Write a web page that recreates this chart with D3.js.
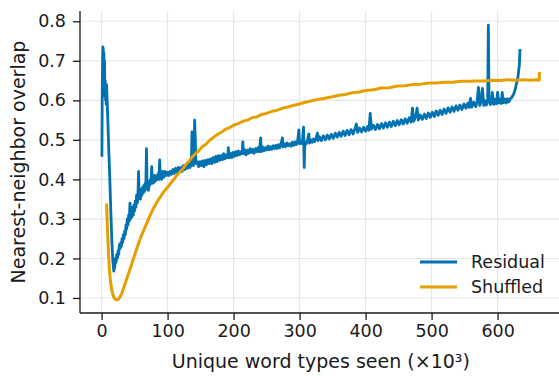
<!DOCTYPE html>
<html>
<head>
<meta charset="utf-8">
<script src="https://cdn.jsdelivr.net/npm/d3@7"></script>
<style>
  html, body { margin: 0; padding: 0; background: #fff; }
  svg { display: block; font-family: "DejaVu Sans", sans-serif; }
</style>
</head>
<body>
<svg id="chart" width="559" height="376"></svg>
<script>
// Unique word types seen (thousands) and nearest-neighbor overlap, per series
const residualX = [0.5,1,1.5,2,2.5,3,3.5,4,4.5,5,5.5,6,6.5,7,7.5,8,9.5,11,12.5,14,15.5,17,18.5,20,21,22,23,24,25,26,27,28,29,30,31,32,33,34,35,36,37,38,39,40,41,42,43,44,45,46,47,48,49,50,51,52,53,54,55,56,57,58,59,60,61,62,63,64,65,66,67,68,69,70,71,72,73,74,75,76,77,78,79,80,81,82,83,84,85,86,87,88,89,90,91,92,94,96,98,100,102,104,106,108,110,112,114,116,118,120,122,124,126,128,130,132,134,136,137,138,139,140,141,142,143,145,147,149,151,153,155,157,159,161,163,165,167,169,171,173,175,177,179,181,183,185,187,189,191,192,193,195,197,199,201,203,205,207,209,211,213,214,215,217,219,221,223,225,227,229,231,233,235,237,239,241,242,244,246,248,250,252,254,256,258,260,262,264,266,268,270,272,274,275,277,279,281,283,285,287,289,291,293,295,297,299,300,302,304,306,307,308,310,312,314,315,317,319,321,323,325,327,328,
  330,333,336,339,342,345,348,351,354,357,360,363,366,369,372,375,378,381,384,386,388,391,394,397,400,403,405,407,409,412,415,418,421,424,427,430,433,436,439,442,445,448,451,454,457,460,463,466,469,471,473,476,478,480,483,486,489,492,495,498,501,504,507,510,513,516,519,522,525,528,531,534,537,540,543,546,549,552,555,557,559,561,564,567,569,571,573,575,577,579,581,583,585,586,587,589,591,592,594,596,598,600,602,604,606,607,609,611,613,615,617,619,621,623,625,627,629,631,632,633,634];
const residualY = [0.457,0.62,0.70,0.735,0.73,0.70,0.72,0.66,0.70,0.61,0.65,0.60,0.64,0.59,0.64,0.62,0.55,0.47,0.40,0.32,0.245,0.195,0.168,0.18,0.20,0.19,0.21,0.20,0.22,0.21,0.235,0.225,0.24,0.23,0.25,0.24,0.26,0.25,0.27,0.26,0.285,0.275,0.30,0.285,0.31,0.295,0.34,0.30,0.32,0.305,0.33,0.31,0.335,0.32,0.345,0.33,0.36,0.34,0.35,0.42,0.355,0.365,0.35,0.375,0.36,0.38,0.365,0.385,0.37,0.39,0.375,0.478,0.38,0.39,0.372,0.395,0.385,0.40,0.39,0.432,0.39,0.405,0.392,0.41,0.395,0.405,0.398,0.41,0.40,0.415,0.40,0.449,0.405,0.41,0.40,0.42,0.405,0.42,0.41,0.418,0.41,0.42,0.413,0.425,0.415,0.428,0.418,0.43,0.42,0.43,0.42,0.435,0.425,0.437,0.428,0.44,0.43,0.44,0.52,0.45,0.435,0.45,0.55,0.50,0.44,0.445,0.432,0.445,0.435,0.447,0.432,0.448,0.437,0.45,0.44,0.452,0.44,0.455,0.443,0.458,0.445,0.46,0.448,0.46,0.45,0.465,0.452,0.462,0.455,0.48,0.455,0.466,0.455,0.468,0.458,0.47,0.46,0.472,0.462,0.47,0.465,0.495,0.465,0.475,0.462,0.474,0.466,0.478,0.468,0.476,0.466,0.478,0.47,0.48,0.47,0.505,0.47,0.482,0.472,0.48,0.474,0.484,0.475,0.483,0.476,0.485,0.478,0.486,0.478,0.488,0.48,0.49,0.505,0.482,0.49,0.483,0.492,0.485,0.49,0.484,0.494,0.486,0.495,0.488,0.496,0.525,0.49,0.496,0.49,0.532,0.43,0.495,0.49,0.5,0.515,0.492,0.5,0.494,0.502,0.496,0.504,0.517,0.498,
  0.508,0.498,0.51,0.5,0.512,0.502,0.514,0.504,0.517,0.507,0.519,0.509,0.522,0.511,0.524,0.513,0.526,0.515,0.528,0.54,0.519,0.53,0.52,0.532,0.522,0.534,0.524,0.567,0.527,0.537,0.526,0.539,0.528,0.541,0.53,0.543,0.532,0.545,0.534,0.547,0.536,0.549,0.538,0.551,0.54,0.553,0.542,0.556,0.545,0.58,0.547,0.559,0.58,0.55,0.563,0.552,0.565,0.554,0.568,0.557,0.57,0.559,0.573,0.562,0.575,0.564,0.578,0.567,0.581,0.57,0.583,0.572,0.586,0.575,0.588,0.577,0.591,0.58,0.593,0.582,0.605,0.583,0.595,0.584,0.597,0.633,0.587,0.598,0.63,0.587,0.599,0.588,0.6,0.79,0.602,0.589,0.6,0.62,0.59,0.602,0.591,0.62,0.593,0.603,0.592,0.62,0.594,0.603,0.593,0.604,0.596,0.604,0.606,0.612,0.618,0.63,0.645,0.66,0.675,0.69,0.73];

const shuffledX = [7.6,8.6,9.6,10.6,11.6,13,14.6,16.5,18.2,20.5,23.2,25.5,28.3,31,33.5,35.9,40,43,46,49,52,56,60,63,66,70,73,76,80,83,86,90,93,96.5,100,103,106.5,110,113,116.7,120,124,129,133,138,143,148,153,158,164,170,176,182,188,194,200,207,214,221,228,235,242,250,258,266,274,282,290,298,306,314,322,330,340,350,360,370,380,390,400,412,424,436,448,460,472,484,496,508,520,532,544,556,568,580,592,604,616,628,640,650,658,663,663.5];
const shuffledY = [0.339,0.29,0.247,0.21,0.179,0.15,0.128,0.113,0.103,0.097,0.095,0.097,0.103,0.114,0.126,0.137,0.158,0.172,0.188,0.203,0.218,0.238,0.256,0.268,0.28,0.295,0.307,0.318,0.331,0.34,0.348,0.358,0.366,0.373,0.38,0.387,0.394,0.401,0.409,0.415,0.421,0.429,0.44,0.447,0.458,0.466,0.474,0.483,0.489,0.499,0.507,0.514,0.52,0.527,0.531,0.537,0.541,0.547,0.55,0.556,0.558,0.564,0.567,0.572,0.575,0.58,0.583,0.587,0.59,0.594,0.597,0.6,0.603,0.606,0.609,0.613,0.615,0.619,0.621,0.625,0.627,0.631,0.632,0.636,0.637,0.64,0.641,0.644,0.644,0.646,0.646,0.648,0.648,0.649,0.649,0.651,0.65,0.652,0.651,0.652,0.651,0.652,0.651,0.672];

const xTicks = [0, 100, 200, 300, 400, 500, 600];
const yTicks = [0.1, 0.2, 0.3, 0.4, 0.5, 0.6, 0.7, 0.8];
const seriesNames = ["Residual", "Shuffled"];
const seriesColors = ["#0072B2", "#E69F00"];
const seriesWidths = [2.8, 3.0];
const xLabel = "Unique word types seen (×10³)";
const yLabel = "Nearest-neighbor overlap";

const svg = d3.select("#chart");
const plotLeft = 80, plotTop = 11, plotBottom = 313;
const x = d3.scaleLinear().domain([-32.7, 697]).range([plotLeft, plotLeft + 729.7 * 0.66]);
const y = d3.scaleLinear().domain([0.062, 0.826]).range([plotBottom, plotTop]);
const plotRight = x.range()[1];

const ink = "#1a1a1a";
const tickFont = 17.5;

// grid
const grid = svg.append("g").attr("stroke", "#e6e6e6").attr("stroke-width", 1.1);
grid.selectAll("line.gx").data(xTicks).join("line")
  .attr("x1", d => x(d)).attr("x2", d => x(d)).attr("y1", plotTop).attr("y2", plotBottom);
grid.selectAll("line.gy").data(yTicks).join("line")
  .attr("x1", plotLeft).attr("x2", plotRight).attr("y1", d => y(d)).attr("y2", d => y(d));

// series lines, shuffled drawn over residual
const line = d3.line().x(d => x(d[0])).y(d => y(d[1]));
const residual = d3.zip(residualX, residualY);
const shuffled = d3.zip(shuffledX, shuffledY);
[residual, shuffled].forEach((pts, i) => {
  svg.append("path").datum(pts)
    .attr("fill", "none")
    .attr("stroke", seriesColors[i])
    .attr("stroke-width", seriesWidths[i])
    .attr("stroke-linejoin", "round")
    .attr("stroke-linecap", "butt")
    .attr("d", line);
});

// axes
const xAxis = svg.append("g").attr("transform", `translate(0,${plotBottom})`)
  .call(d3.axisBottom(x).tickValues(xTicks).tickSize(7).tickPadding(5).tickFormat(d3.format("d")));
const yAxis = svg.append("g").attr("transform", `translate(${plotLeft},0)`)
  .call(d3.axisLeft(y).tickValues(yTicks).tickSize(7).tickPadding(7).tickFormat(d3.format(".1f")));
[xAxis, yAxis].forEach(g => {
  g.select(".domain").attr("stroke", ink).attr("stroke-width", 1.3);
  g.selectAll(".tick line").attr("stroke", ink).attr("stroke-width", 1.3);
  g.selectAll(".tick text").attr("fill", ink)
    .style("font-family", "'DejaVu Sans', sans-serif").style("font-size", tickFont + "px");
});
yAxis.select(".domain").attr("d", `M0,${plotTop}V${plotBottom}`);
xAxis.select(".domain").attr("d", `M${plotLeft},0H${plotRight}`);

// axis titles
svg.append("text").attr("x", (plotLeft + plotRight) / 2).attr("y", 368)
  .attr("text-anchor", "middle").attr("fill", ink).style("font-size", "19px").text(xLabel);
svg.append("text").attr("transform", `translate(25,${(plotTop + plotBottom) / 2}) rotate(-90)`)
  .attr("text-anchor", "middle").attr("fill", ink).style("font-size", "19px").text(yLabel);

// legend
const legend = svg.append("g");
seriesNames.forEach((name, i) => {
  const ly = 262 + i * 25;
  legend.append("line").attr("x1", 420).attr("x2", 457).attr("y1", ly).attr("y2", ly)
    .attr("stroke", seriesColors[i]).attr("stroke-width", seriesWidths[i]);
  legend.append("text").attr("x", 471).attr("y", ly + 6).attr("fill", ink)
    .style("font-size", tickFont + "px").text(name);
});
</script>
</body>
</html>
